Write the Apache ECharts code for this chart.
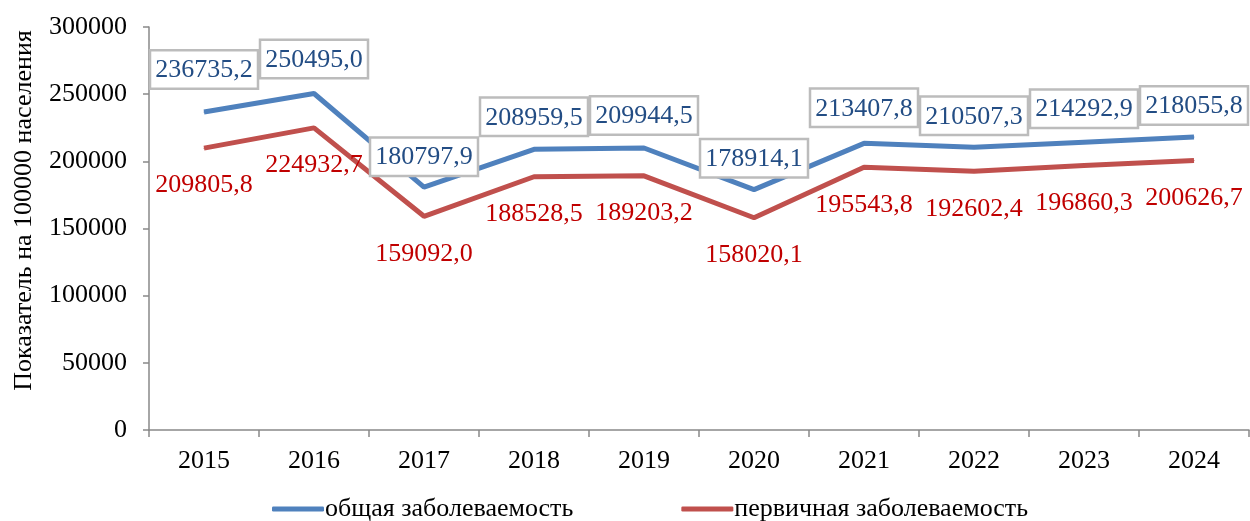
<!DOCTYPE html>
<html>
<head>
<meta charset="utf-8">
<script src="https://cdn.jsdelivr.net/npm/echarts@6/dist/echarts.min.js"></script>
<style>
  html, body { margin: 0; padding: 0; background: #fff; }
  #chart { width: 1250px; height: 521px; }
</style>
</head>
<body>
<div id="chart"></div>
<script>
const years = ["2015", "2016", "2017", "2018", "2019", "2020", "2021", "2022", "2023", "2024"];
const totalRate = [236735.2, 250495.0, 180797.9, 208959.5, 209944.5, 178914.1, 213407.8, 210507.3, 214292.9, 218055.8];
const primaryRate = [209805.8, 224932.7, 159092.0, 188528.5, 189203.2, 158020.1, 195543.8, 192602.4, 196860.3, 200626.7];
const yTicks = [0, 50000, 100000, 150000, 200000, 250000, 300000];

// подписи общей заболеваемости — небольшой сдвиг по вертикали
const totalLabelShift = [-10, -2, 2, 0, 0, 1, -3, 1, -1, 1];

const font = "'Liberation Serif', 'Times New Roman', serif";
const axisColor = "#898989";

function fmt(v) {
  return v.toFixed(1).replace(".", ",");
}

const chart = echarts.init(document.getElementById("chart"));
chart.setOption({
  animation: false,
  textStyle: { fontFamily: font },
  grid: { left: 149, right: 1, top: 27, bottom: 91 },
  legend: {
    left: 267,
    top: 491,
    itemGap: 108,
    itemWidth: 52,
    itemHeight: 5,
    icon: "roundRect",
    textStyle: { fontFamily: font, fontSize: 26, color: "#000", padding: [0, 0, 0, -4] },
    data: ["общая заболеваемость", "первичная заболеваемость"],
  },
  xAxis: {
    type: "category",
    data: years,
    boundaryGap: true,
    axisLine: { lineStyle: { color: axisColor, width: 1.5 } },
    axisTick: { show: true, length: 7, lineStyle: { color: axisColor, width: 1.5 } },
    axisLabel: { color: "#000", fontFamily: font, fontSize: 26, margin: 18 },
  },
  yAxis: {
    type: "value",
    min: 0,
    max: 300000,
    interval: 50000,
    name: "Показатель на 100000 населения",
    nameLocation: "middle",
    nameGap: 112,
    nameTextStyle: { color: "#000", fontFamily: font, fontSize: 26, padding: [0, 0, 0, 36] },
    axisLine: { show: true, lineStyle: { color: axisColor, width: 1.5 } },
    axisTick: { show: true, length: 6, lineStyle: { color: axisColor, width: 1.5 } },
    axisLabel: {
      color: "#000",
      fontFamily: font,
      fontSize: 26,
      margin: 22,
      formatter: (v) => (yTicks.includes(v) ? String(v) : ""),
    },
    splitLine: { show: false },
  },
  series: [
    {
      name: "общая заболеваемость",
      type: "line",
      data: totalRate.map((v, i) => ({
        value: v,
        label: { offset: [0, totalLabelShift[i]] },
      })),
      symbol: "circle",
      symbolSize: 1,
      lineStyle: { color: "#4f81bd", width: 5 },
      itemStyle: { color: "#4f81bd" },
      label: {
        show: true,
        position: "top",
        distance: 14,
        formatter: (p) => fmt(p.value),
        color: "#234d84",
        fontFamily: font,
        fontSize: 26,
        backgroundColor: "#fff",
        borderColor: "#bcbcbc",
        borderWidth: 2.5,
        padding: [6, 4, 4, 4],
      },
      z: 3,
    },
    {
      name: "первичная заболеваемость",
      type: "line",
      data: primaryRate,
      symbol: "circle",
      symbolSize: 1,
      lineStyle: { color: "#c0504d", width: 5 },
      itemStyle: { color: "#c0504d" },
      label: {
        show: true,
        position: "bottom",
        distance: 24,
        formatter: (p) => fmt(p.value),
        color: "#c00000",
        fontFamily: font,
        fontSize: 26,
      },
      z: 2,
    },
  ],
});
</script>
</body>
</html>
